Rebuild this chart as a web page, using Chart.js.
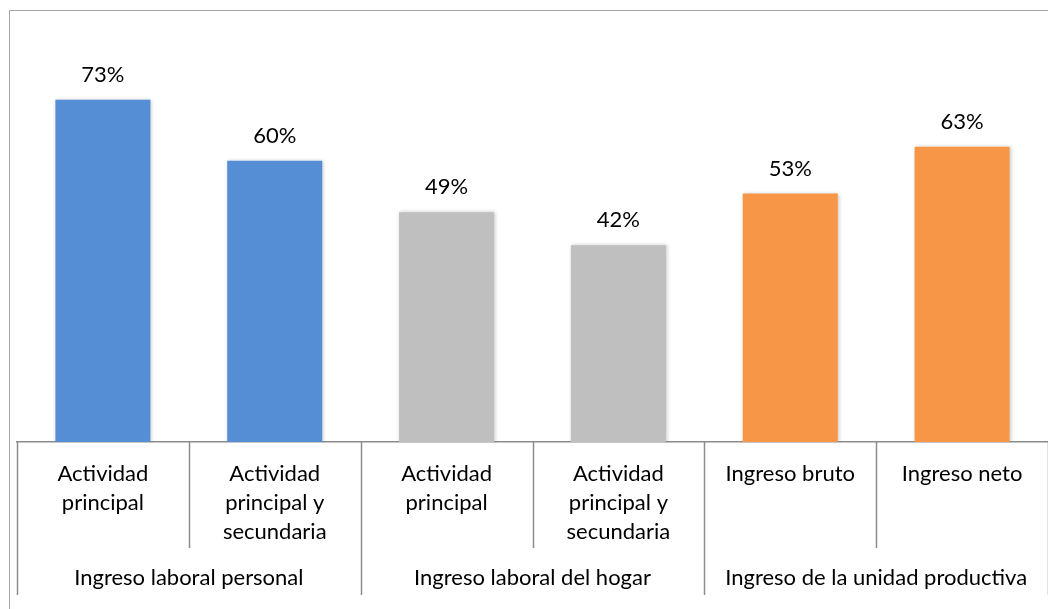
<!DOCTYPE html>
<html>
<head>
<meta charset="utf-8">
<script src="https://cdn.jsdelivr.net/npm/chart.js@4.4.1/dist/chart.umd.min.js"></script>
<style>
  html, body { margin: 0; padding: 0; background: #fff; overflow: hidden; }
  #wrap  { position: relative; width: 1048px; height: 609px; }
  #frame { position: absolute; left: 9px; top: 10px; width: 1100px; height: 700px;
           border: 1px solid #a6a6a6; box-sizing: border-box; }
  #chart { position: absolute; left: 0; top: 0; }
</style>
</head>
<body>
<div id="wrap">
  <div id="frame"></div>
  <canvas id="chart" width="1048" height="609"></canvas>
</div>
<script>
// categories (second level) and the group each pair belongs to
const categories = [
  ['Actividad', 'principal'],
  ['Actividad', 'principal y', 'secundaria'],
  ['Actividad', 'principal'],
  ['Actividad', 'principal y', 'secundaria'],
  ['Ingreso bruto'],
  ['Ingreso neto'],
];
const values     = [73, 60, 49, 42, 53, 63];
const groups     = ['Ingreso laboral personal', 'Ingreso laboral del hogar', 'Ingreso de la unidad productiva'];
const groupSizes = [2, 2, 2];

const barColors = ['#558ed5', '#558ed5', '#bfbfbf', '#bfbfbf', '#f79646', '#f79646'];
const FONT      = "Lato, 'Open Sans', sans-serif";
const FONT_SIZE = 22;
const LINE_GRAY = '#8c8c8c';

// soft shadow under the bars
const barShadow = {
  id: 'barShadow',
  beforeDatasetsDraw(chart) {
    const ctx = chart.ctx;
    ctx.save();
    ctx.shadowColor = 'rgba(0,0,0,0.22)';
    ctx.shadowBlur = 4;
    ctx.shadowOffsetX = 1;
    ctx.shadowOffsetY = 0;
  },
  afterDatasetsDraw(chart) { chart.ctx.restore(); },
};

// value labels above each bar
const valueLabels = {
  id: 'valueLabels',
  afterDraw(chart) {
    const ctx = chart.ctx;
    const meta = chart.getDatasetMeta(0);
    ctx.save();
    ctx.font = FONT_SIZE + 'px ' + FONT;
    ctx.fillStyle = '#000';
    ctx.textAlign = 'center';
    ctx.textBaseline = 'middle';
    meta.data.forEach(function (bar, i) {
      ctx.fillText(values[i] + '%', bar.x, bar.y - 25);
    });
    ctx.restore();
  },
};

// vertical separators between categories and the group row underneath
const groupAxis = {
  id: 'groupAxis',
  afterDraw(chart) {
    const ctx = chart.ctx;
    const xs = chart.scales.x;
    const bottom = chart.chartArea.bottom;
    const step = xs.getPixelForValue(1) - xs.getPixelForValue(0);
    const edge = function (k) { return xs.getPixelForValue(0) - step / 2 + k * step; };

    const groupEdges = [0];
    groupSizes.forEach(function (n) { groupEdges.push(groupEdges[groupEdges.length - 1] + n); });

    ctx.save();
    ctx.strokeStyle = LINE_GRAY;
    ctx.lineWidth = 1.5;
    for (let k = 0; k <= categories.length; k++) {
      const isGroup = groupEdges.indexOf(k) !== -1;
      const x = Math.round(edge(k)) + 0.5;
      ctx.beginPath();
      ctx.moveTo(x, bottom);
      ctx.lineTo(x, isGroup ? bottom + 153 : bottom + 106);
      ctx.stroke();
    }

    ctx.font = FONT_SIZE + 'px ' + FONT;
    ctx.fillStyle = '#000';
    ctx.textAlign = 'center';
    ctx.textBaseline = 'middle';
    groups.forEach(function (g, i) {
      const x = (edge(groupEdges[i]) + edge(groupEdges[i + 1])) / 2;
      ctx.fillText(g, x, bottom + 136);
    });
    ctx.restore();
  },
};

new Chart(document.getElementById('chart').getContext('2d'), {
  type: 'bar',
  data: {
    labels: categories,
    datasets: [{
      data:               values,
      backgroundColor:    barColors,
      borderWidth:        0,
      barPercentage:      0.553,
      categoryPercentage: 1,
    }],
  },
  options: {
    responsive: false,
    animation:  false,
    layout: { padding: { left: 17, right: 0, top: 67, bottom: 0 } },
    plugins: {
      legend:  { display: false },
      tooltip: { enabled: false },
    },
    scales: {
      x: {
        grid:   { display: false, drawTicks: false },
        border: { display: true, color: LINE_GRAY, width: 1.5 },
        ticks:  {
          color: '#000',
          font: { family: FONT, size: FONT_SIZE, lineHeight: 29 / FONT_SIZE },
          padding: 17,
          maxRotation: 0,
          autoSkip: false,
        },
        afterFit: function (scale) { scale.height = 167; },
      },
      y: {
        display: false,
        min: 0,
        max: 80,
      },
    },
  },
  plugins: [barShadow, valueLabels, groupAxis],
});
</script>
</body>
</html>
